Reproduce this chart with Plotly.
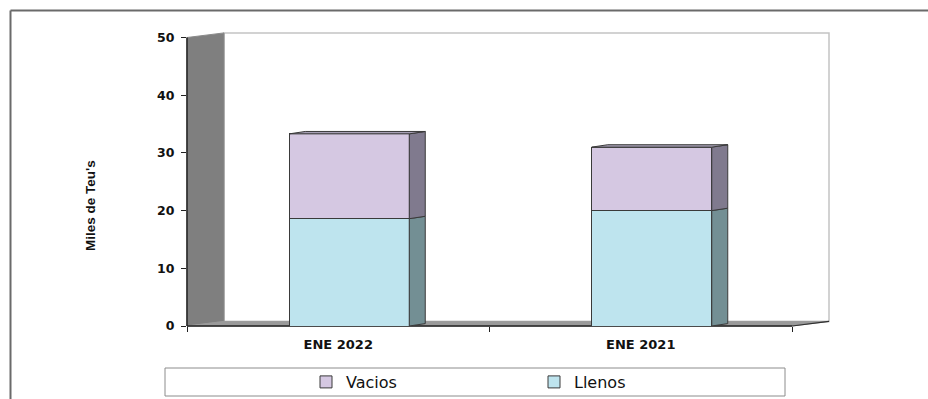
import plotly.graph_objects as go

# ---- data -------------------------------------------------------------
categories = ["ENE 2022", "ENE 2021"]
llenos = [18.6, 20.0]   # miles de TEU llenos
vacios = [14.7, 11.0]   # miles de TEU vacíos
y_ticks = [0, 10, 20, 30, 40, 50]

# ---- page geometry ----------------------------------------------------
W, H = 928, 399
L, R, T, B = 187, 96, 30, 73
PW, PH = W - L - R, H - T - B

XU = 302.5           # pixels per category slot
YU = 5.77            # pixels per unit on the value axis
X_MIN = -0.5
X_MAX = X_MIN + PW / XU
Y_MAX = PH / YU
Y_TOP = 50

xs = list(range(len(categories)))
X_END = xs[-1] + 0.5

# pseudo-3D depth (walls/floor and bars)
WDX, WDY = 37 / XU, 4.6 / YU
BDX, BDY = 16 / XU, 2.4 / YU
BAR_W = 120 / XU
BAR_OFF = -BAR_W / 2 + 11 / XU


def xp(x):
    return (x - X_MIN) / (X_MAX - X_MIN)


def yp(y):
    return y / Y_MAX


def pxx(px):
    return (px - L) / PW


def pxy(py):
    return (H - B - py) / PH


def path(points):
    return "M " + " L ".join(f"{xp(a)},{yp(b)}" for a, b in points) + " Z"


FRONT = {"Llenos": "#bee4ee", "Vacios": "#d5c8e2"}
SIDE = {"Llenos": "#738f94", "Vacios": "#807a8e"}
TOP = {"Llenos": "#9fbcc2", "Vacios": "#a69fb4"}
EDGE = "#3a3a3a"

fig = go.Figure()

fig.add_trace(go.Bar(
    x=xs, y=llenos, name="Llenos", width=BAR_W, offset=BAR_OFF,
    marker=dict(color=FRONT["Llenos"], line=dict(color=EDGE, width=1)),
))
fig.add_trace(go.Bar(
    x=xs, y=vacios, name="Vacios", width=BAR_W, offset=BAR_OFF,
    marker=dict(color=FRONT["Vacios"], line=dict(color=EDGE, width=1)),
))

# side and top faces of each stacked segment
for i, x in enumerate(xs):
    xl = x + BAR_OFF
    xr = xl + BAR_W
    segs = [("Llenos", 0, llenos[i]), ("Vacios", llenos[i], llenos[i] + vacios[i])]
    for name, y0, y1 in segs:
        fig.add_trace(go.Scatter(
            x=[xr, xr + BDX, xr + BDX, xr, xr],
            y=[y0, y0 + BDY, y1 + BDY, y1, y0],
            mode="lines", fill="toself", fillcolor=SIDE[name],
            line=dict(color=EDGE, width=1), showlegend=False, hoverinfo="skip",
        ))
    top = llenos[i] + vacios[i]
    fig.add_trace(go.Scatter(
        x=[xl, xl + BDX, xr + BDX, xr, xl],
        y=[top, top + BDY, top + BDY, top, top],
        mode="lines", fill="toself", fillcolor=TOP["Vacios"],
        line=dict(color=EDGE, width=1), showlegend=False, hoverinfo="skip",
    ))

shapes = [
    # back wall
    dict(type="rect", xref="paper", yref="paper", layer="below",
         x0=xp(X_MIN + WDX), x1=xp(X_END + WDX), y0=yp(WDY), y1=yp(Y_TOP + WDY),
         fillcolor="white", line=dict(color="#c4c4c4", width=1.5)),
    # side wall
    dict(type="path", xref="paper", yref="paper", layer="below",
         path=path([(X_MIN, 0), (X_MIN, Y_TOP), (X_MIN + WDX, Y_TOP + WDY), (X_MIN + WDX, WDY)]),
         fillcolor="#7f7f7f", line=dict(color="#8a8a8a", width=1)),
    # floor
    dict(type="path", xref="paper", yref="paper", layer="below",
         path=path([(X_MIN, 0), (X_MIN + WDX, WDY), (X_END + WDX, WDY), (X_END, 0)]),
         fillcolor="#9a9a9a", line=dict(color="#9a9a9a", width=1)),
    # value axis edge
    dict(type="line", xref="paper", yref="paper", layer="below",
         x0=xp(X_MIN), x1=xp(X_MIN), y0=yp(0), y1=yp(Y_TOP),
         line=dict(color="#202020", width=1.5)),
    # category axis edge
    dict(type="line", xref="paper", yref="paper", layer="below",
         x0=xp(X_MIN), x1=xp(X_END), y0=yp(0), y1=yp(0),
         line=dict(color="#202020", width=1.5)),
    dict(type="line", xref="paper", yref="paper", layer="below",
         x0=xp(X_END), x1=xp(X_END + WDX), y0=yp(0), y1=yp(WDY),
         line=dict(color="#303030", width=1.2)),
    # outer frame
    dict(type="line", xref="paper", yref="paper",
         x0=pxx(10.5), x1=pxx(W + 5), y0=pxy(10.5), y1=pxy(10.5),
         line=dict(color="#6a6a6a", width=2)),
    dict(type="line", xref="paper", yref="paper",
         x0=pxx(10.5), x1=pxx(10.5), y0=pxy(10.5), y1=pxy(H + 5),
         line=dict(color="#6a6a6a", width=2)),
    # legend frame
    dict(type="rect", xref="paper", yref="paper",
         x0=pxx(165), x1=pxx(785), y0=pxy(396), y1=pxy(368),
         line=dict(color="#8c8c8c", width=1), fillcolor="rgba(0,0,0,0)"),
]

fig.update_layout(
    width=W, height=H,
    margin=dict(l=L, r=R, t=T, b=B, autoexpand=False),
    barmode="stack",
    paper_bgcolor="white",
    plot_bgcolor="rgba(0,0,0,0)",
    shapes=shapes,
    showlegend=True,
    legend=dict(
        orientation="h", traceorder="reversed",
        x=pxx(306), xanchor="left", y=pxy(382), yanchor="middle",
        bgcolor="rgba(0,0,0,0)", borderwidth=0,
        font=dict(family="DejaVu Sans", size=16, color="#111"),
        itemwidth=30, entrywidth=183,
    ),
    annotations=[dict(
        text="Miles de Teu's", textangle=-90, showarrow=False,
        xref="paper", yref="paper", x=pxx(91), y=pxy(206),
        xanchor="center", yanchor="middle",
        font=dict(family="Liberation Sans", size=13.5, color="#111", weight="bold"),
    )],
)

fig.update_xaxes(
    range=[X_MIN, X_MAX], tickvals=xs, ticktext=categories,
    ticks="outside", ticklen=6, tickcolor="rgba(0,0,0,0)",
    minor=dict(tickvals=[X_MIN + k for k in range(len(xs) + 1)],
               ticks="outside", ticklen=5, tickcolor="#202020", tickwidth=1),
    showline=False, showgrid=False, zeroline=False,
    tickfont=dict(family="DejaVu Sans", size=13, color="#111", weight="bold"),
)
fig.update_yaxes(
    range=[0, Y_MAX], tickvals=y_ticks,
    ticks="outside", ticklen=5, tickcolor="#202020", tickwidth=1,
    ticklabelstandoff=4,
    showline=False, showgrid=False, zeroline=False,
    tickfont=dict(family="DejaVu Sans", size=12.5, color="#111", weight="bold"),
)

fig.write_html("out.html")
